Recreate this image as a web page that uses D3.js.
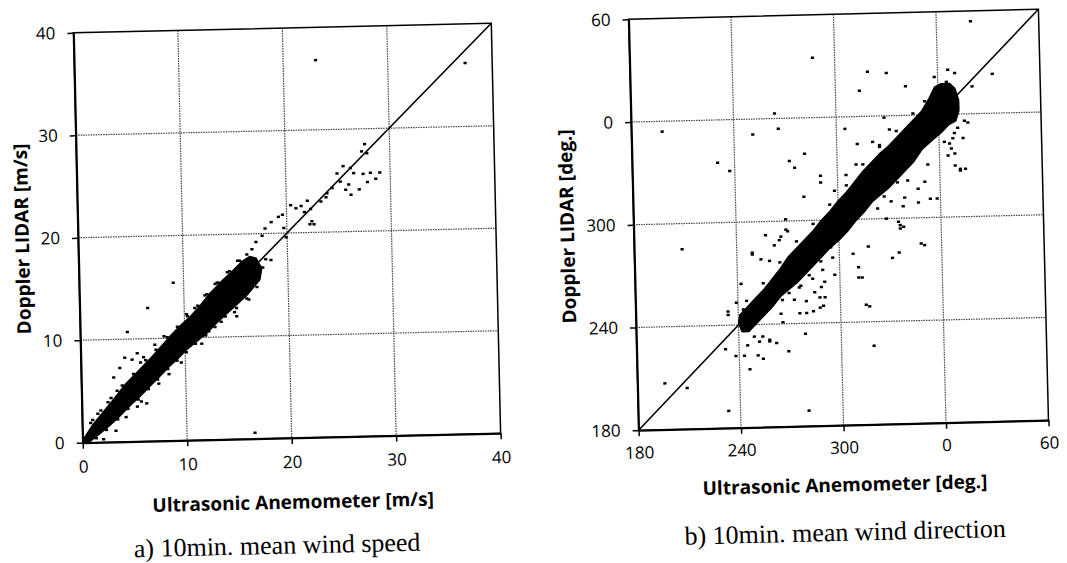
<!DOCTYPE html>
<html>
<head>
<meta charset="utf-8">
<script src="https://cdn.jsdelivr.net/npm/d3@7/dist/d3.min.js"></script>
<style>
  body { margin: 0; background: #fff; }
  text { fill: #000; }
</style>
</head>
<body>
<svg id="chart" width="1067" height="563"></svg>
<script>
// a) 10 min mean wind speed [m/s]
var speedTicks = [0, 10, 20, 30, 40];
var speedTickLabels = ["0", "10", "20", "30", "40"];

// outline of the solid cloud of points (upper edge out, lower edge back)
var speedBandX = [0, 0.2, 1, 2, 3, 4.3, 5.5, 6.6, 7.6, 8.6, 9.6, 10.6, 11.6, 12.5, 13.6, 14.8, 15.6, 16.4, 17.0, 17.5,
                  17.3, 16.0, 15.0, 14.1, 13.0, 12.1, 11.1, 10.2, 9.4, 8.5, 7.5, 6.6, 5.6, 4.6, 3.6, 2.6, 1.6, 0.7, 0.3];
var speedBandY = [0.1, 0.5, 1.7, 2.9, 4.1, 5.7, 6.9, 8.0, 9.1, 10.2, 11.2, 12.1, 13.2, 14.3, 15.4, 16.5, 17.3, 17.8, 17.6, 16.6,
                  15.5, 14.0, 13.1, 12.3, 11.3, 10.4, 9.6, 8.9, 8.1, 7.3, 6.3, 5.4, 4.4, 3.5, 2.5, 1.6, 0.8, 0.1, 0];

// single points outside / on the edge of the cloud
var speedX = [4.5, 6.5, 9.0, 4.2, 4.9, 5.4, 5.7, 3.7, 3.1, 7.1, 5.7, 6.2, 8.4, 12.3, 13.2, 15.0, 16.5, 7.2, 6.7, 23.1, 37.4,
              27.6, 27.3, 27.8, 25.5, 26.2, 26.5, 27.4, 28.1, 29.0, 28.6, 27.8, 27.0, 26.2, 26.0, 25.2, 24.4, 23.8, 23.3, 22.0,
              22.3, 21.7, 22.6, 21.4, 24.9, 25.7, 23.9, 20.4, 20.9, 22.2, 22.4, 19.9, 19.7, 18.5, 19.2, 19.6, 17.9, 17.6,
              17.0, 16.6, 16.1, 17.9, 18.4, 17.6, 17.0, 17.3,
              1.0, 1.5, 2.5, 3.4, 2.0, 3.2, 4.2, 5.3, 7.4, 9.6, 11.6, 13.5, 14.8, 16.2, 11.0, 12.0, 13.0, 14.2, 15.2, 8.0, 6.0, 10.2,
              0.8, 1.8, 2.8, 3.9, 5.0, 6.2, 7.2, 8.3, 9.3, 10.3, 11.3, 12.2, 13.3, 14.4, 15.4,
              1.3, 2.3, 3.4, 4.4, 5.4, 6.4, 7.3, 8.3, 9.2, 10.1, 11.0, 12.0, 12.9, 13.9, 15.0, 16.0, 17.0];
var speedY = [10.7, 13.0, 15.4, 8.2, 8.0, 8.6, 7.7, 7.2, 6.3, 9.4, 3.9, 3.7, 6.5, 10.6, 15.3, 12.0, 0.6, 6.3, 5.8, 36.8, 36.2,
              28.5, 27.8, 27.6, 26.4, 26.2, 25.7, 25.6, 25.7, 25.7, 25.1, 24.8, 24.1, 23.6, 24.6, 24.9, 24.3, 23.4, 23.0, 23.1,
              22.3, 22.0, 20.8, 22.6, 25.7, 24.1, 23.8, 22.7, 22.4, 20.8, 21.1, 19.6, 20.5, 21.1, 21.6, 21.8, 20.5, 19.8,
              19.2, 18.5, 18.0, 17.5, 17.4, 16.7, 17.2, 16.3,
              2.2, 2.8, 3.9, 5.0, 0.3, 1.1, 2.4, 3.4, 5.6, 7.6, 9.4, 11.5, 12.4, 13.6, 12.9, 14.1, 15.2, 16.3, 17.4, 10.2, 8.2, 12.3,
              1.9, 3.1, 4.3, 5.5, 6.6, 7.9, 8.9, 10.1, 11.1, 12.1, 13.1, 14.2, 15.3, 16.4, 17.4,
              0.4, 1.2, 2.2, 3.2, 4.1, 5.1, 6.0, 7.0, 7.8, 8.6, 9.4, 10.2, 11.0, 12.0, 12.8, 13.7, 14.8];

// b) 10 min mean wind direction [deg.] (values above 360 are 0..60)
var dirTicks = [180, 240, 300, 360, 420];
var dirTickLabels = ["180", "240", "300", "0", "60"];

var dirBandX = [240, 241, 245, 250, 255, 260, 265, 270, 275, 280, 285, 290, 295, 300, 305, 310, 315, 320, 325, 330, 335, 340,
                345, 350, 355, 358, 362, 367, 370,
                372, 372, 370, 366, 362, 357, 350, 345, 340, 335, 330, 325, 320, 315, 310, 305, 300, 295, 290, 285, 280,
                275, 270, 265, 260, 255, 250, 246, 242];
var dirBandY = [241, 246, 250, 255, 260, 266, 272, 279, 284, 289, 294, 300, 305, 311, 316, 322, 328, 333, 338, 342, 347, 352,
                357, 362, 370, 376, 378, 378, 375,
                368, 362, 356, 354, 350, 346, 340, 333, 328, 323, 318, 314, 310, 304, 299, 293, 288, 284, 279, 274, 269,
                264, 260, 256, 250, 245, 240, 236, 236];

var dirX = [287, 380, 392, 380, 330, 319, 341, 314, 264, 266, 305, 328, 230, 237, 272, 275, 281, 280, 290, 290, 269, 269, 257,
            265, 249, 208, 198, 251, 234, 232, 238, 243, 246, 252, 258, 262, 251, 254, 269, 279, 266, 276, 284, 291, 288, 277,
            270, 284, 289, 297, 289, 311, 311, 315, 319, 233, 280, 196, 209, 348, 331, 335, 336, 335, 354, 347, 351, 353, 372,
            369, 374, 367, 365, 368, 363, 371, 375, 366, 370, 365, 361, 358, 331, 298, 305, 311, 312, 321, 325, 316, 319, 324,
            335, 341, 358, 347, 339, 331, 327, 320, 338, 323, 328, 336, 338, 350, 317, 313, 317, 308, 296, 295, 290, 291, 282,
            278, 285, 276, 280, 288, 290, 273, 266, 264, 262, 260, 258, 252, 265, 280, 259, 254, 249, 262, 266, 270, 242, 239,
            243, 234, 246, 249, 254, 258, 245, 372, 375, 377, 369, 366, 369,
            245, 255, 265, 275, 285, 295, 305, 315, 325, 335, 345, 352];
var dirY = [395, 414, 383, 376, 385, 386, 377, 375, 363, 354, 353, 359, 335, 330, 335, 331, 339, 314, 326, 322, 301, 295, 292,
            289, 281, 285, 354, 351, 246, 226, 222, 222, 214, 230, 230, 229, 222, 220, 224, 234, 241, 246, 247, 255, 249, 262,
            258, 266, 261, 268, 276, 272, 266, 250, 226, 190, 189, 207, 204, 285, 277, 280, 294, 298, 311, 317, 321, 331, 328,
            330, 346, 340, 336, 346, 344, 352, 356, 386, 384, 379, 377, 382, 352, 317, 326, 332, 344, 345, 343, 322, 324, 322,
            321, 322, 311, 309, 312, 310, 313, 311, 307, 306, 300, 296, 295, 284, 284, 266, 249, 280, 278, 284, 271, 264, 268,
            272, 258, 261, 253, 255, 250, 254, 254, 260, 265, 254, 249, 246, 246, 246, 277, 278, 282, 286, 291, 294, 264, 253,
            249, 248, 237, 233, 233, 231, 228, 327, 328, 355, 349, 343, 337,
            254, 264, 276, 288, 298, 309, 320, 332, 342, 351, 361, 368];

var svg = d3.select("#chart");

var panels = [
  {
    cx: 287, cy: 233, angle: -1.3, width: 418, height: 410,
    domain: [0, 40], ticks: speedTicks, labels: speedTickLabels,
    bandX: speedBandX, bandY: speedBandY, px: speedX, py: speedY,
    xTitle: "Ultrasonic Anemometer [m/s]", yTitle: "Doppler LIDAR [m/s]",
    caption: "a) 10min. mean wind speed", captionDx: -17,
    xPad: 12, xTitleY: 64, yTitleX: 56
  },
  {
    cx: 838.5, cy: 219.75, angle: -1.4, width: 410, height: 411,
    domain: [180, 420], ticks: dirTicks, labels: dirTickLabels,
    bandX: dirBandX, bandY: dirBandY, px: dirX, py: dirY,
    xTitle: "Ultrasonic Anemometer [deg.]", yTitle: "Doppler LIDAR [deg.]",
    caption: "b) 10min. mean wind direction", captionDx: -1,
    xPad: 10.5, xTitleY: 59.5, yTitleX: 66.5
  }
];

var drawPanel = function(p)
{
  var left = p.cx - p.width / 2;
  var top = p.cy - p.height / 2;

  var g = svg.append("g")
             .attr("transform", "rotate(" + p.angle + "," + p.cx + "," + p.cy + ") translate(" + left + "," + top + ")");

  var x = d3.scaleLinear().domain(p.domain).range([0, p.width]);
  var y = d3.scaleLinear().domain(p.domain).range([p.height, 0]);
  var inner = p.ticks.slice(1, -1);

  /* dotted grid */
  g.selectAll(".gx")
   .data(inner)
   .enter()
   .append("line")
   .attr("x1", function(d) { return x(d); })
   .attr("x2", function(d) { return x(d); })
   .attr("y1", 0)
   .attr("y2", p.height)
   .attr("stroke", "#444")
   .attr("stroke-width", 1.2)
   .attr("stroke-dasharray", "1.5,1");

  g.selectAll(".gy")
   .data(inner)
   .enter()
   .append("line")
   .attr("y1", function(d) { return y(d); })
   .attr("y2", function(d) { return y(d); })
   .attr("x1", 0)
   .attr("x2", p.width)
   .attr("stroke", "#444")
   .attr("stroke-width", 1.2)
   .attr("stroke-dasharray", "1.5,1");

  /* 1:1 line */
  g.append("line")
   .attr("x1", x(p.domain[0]))
   .attr("y1", y(p.domain[0]))
   .attr("x2", x(p.domain[1]))
   .attr("y2", y(p.domain[1]))
   .attr("stroke", "#000")
   .attr("stroke-width", 1.6);

  /* dense cloud */
  var outline = p.bandX.map(function(d, i) { return [d, p.bandY[i]]; });
  g.append("path")
   .datum(outline)
   .attr("d", d3.line()
                .x(function(d) { return x(d[0]); })
                .y(function(d) { return y(d[1]); })
                .curve(d3.curveLinearClosed))
   .attr("fill", "#000")
   .attr("stroke", "#000")
   .attr("stroke-width", 1.5)
   .attr("stroke-linejoin", "round");

  /* scattered points */
  g.selectAll(".pt")
   .data(p.px)
   .enter()
   .append("rect")
   .attr("x", function(d) { return x(d) - 1.5; })
   .attr("y", function(d, i) { return y(p.py[i]) - 1.2; })
   .attr("width", 3.2)
   .attr("height", 2.5)
   .attr("fill", "#000");

  /* frame */
  g.append("rect")
   .attr("width", p.width)
   .attr("height", p.height)
   .attr("fill", "none")
   .attr("stroke", "#000")
   .attr("stroke-width", 1.5);

  var fmt = function(d, i) { return p.labels[i]; };

  var xAxis = g.append("g")
               .attr("transform", "translate(0," + p.height + ")")
               .call(d3.axisBottom(x).tickValues(p.ticks).tickFormat(fmt)
                       .tickSize(6).tickSizeOuter(0).tickPadding(p.xPad));

  var yAxis = g.append("g")
               .call(d3.axisLeft(y).tickValues(p.ticks).tickFormat(fmt)
                       .tickSize(6).tickSizeOuter(0).tickPadding(12));

  [xAxis, yAxis].forEach(function(a)
  {
    a.select(".domain").attr("stroke-width", 2);
    a.selectAll(".tick line").attr("stroke-width", 1.5);
    a.selectAll("text")
     .attr("font-family", "'Open Sans', sans-serif")
     .attr("font-size", 17)
     .attr("fill", "#000");
  });

  g.append("text")
   .text(p.xTitle)
   .attr("x", p.width / 2)
   .attr("y", p.height + p.xTitleY)
   .attr("dy", "0.36em")
   .attr("text-anchor", "middle")
   .attr("font-family", "'Open Sans', sans-serif")
   .attr("font-weight", "bold")
   .attr("font-size", 19);

  g.append("text")
   .text(p.yTitle)
   .attr("transform", "translate(" + (-p.yTitleX) + "," + (p.height / 2) + ") rotate(-90)")
   .attr("dy", "0.36em")
   .attr("text-anchor", "middle")
   .attr("font-family", "'Open Sans', sans-serif")
   .attr("font-weight", "bold")
   .attr("font-size", 19);

  g.append("text")
   .text(p.caption)
   .attr("x", p.width / 2 + p.captionDx)
   .attr("y", p.height + 107)
   .attr("dy", "0.33em")
   .attr("text-anchor", "middle")
   .attr("font-family", "'Liberation Serif', serif")
   .attr("font-size", 26);
}

panels.forEach(function(p)
{
  drawPanel(p);
});
</script>
</body>
</html>
